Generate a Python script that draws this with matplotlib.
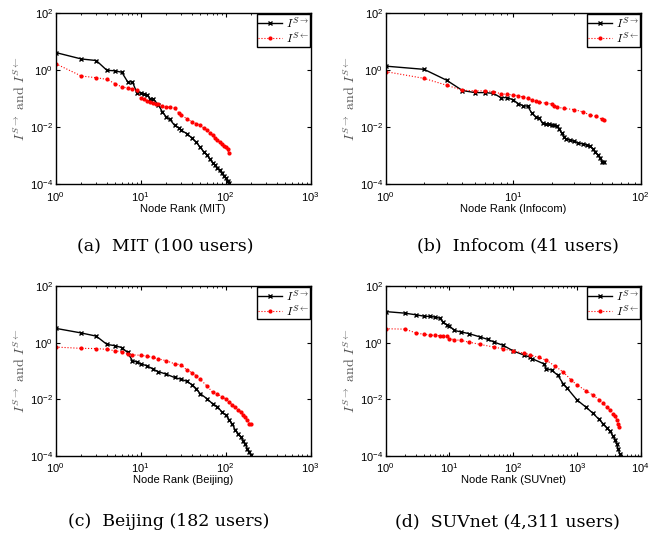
import matplotlib
matplotlib.use("Agg")
import matplotlib.pyplot as plt
import numpy as np

plt.rcParams["mathtext.fontset"] = "cm"
plt.rcParams["font.family"] = ["Liberation Sans", "DejaVu Sans"]

# ---- values (rank, influence) ----
mit_rank_out = [1, 2, 3, 4, 5, 6, 7, 8, 9, 10, 11, 12, 13, 14, 16, 18, 20, 22, 25,
                28, 30, 35, 40, 45, 50, 55, 60, 65, 70, 75, 80, 85, 90, 95, 100, 105, 110]
mit_out = [4.2, 2.5, 2.2, 1.0, 0.96, 0.85, 0.4, 0.39, 0.165, 0.16, 0.15, 0.135, 0.1,
           0.1, 0.063, 0.035, 0.023, 0.019, 0.0118, 0.0095, 0.0078, 0.006, 0.0042,
           0.003, 0.002, 0.0014, 0.0011, 0.00076, 0.00058, 0.00047, 0.00037, 0.00031,
           0.00024, 0.0002, 0.00016, 0.00013, 0.000114]
mit_rank_in = [1, 2, 3, 4, 5, 6, 7, 8, 9, 10, 11, 12, 13, 14, 15, 16, 18, 20, 22, 25,
               28, 30, 35, 40, 45, 50, 55, 60, 65, 70, 75, 80, 85, 90, 95, 100, 105, 108]
mit_in = [1.7, 0.63, 0.55, 0.48, 0.34, 0.26, 0.24, 0.22, 0.2, 0.107, 0.096, 0.084,
          0.078, 0.072, 0.068, 0.064, 0.058, 0.052, 0.05, 0.048, 0.032, 0.027, 0.02,
          0.0155, 0.0135, 0.012, 0.0095, 0.0078, 0.0063, 0.0052, 0.0043, 0.0036,
          0.003, 0.0025, 0.0022, 0.002, 0.0017, 0.0013]

info_rank_out = [1, 2, 3, 4, 5, 6, 7, 8, 9, 10, 11, 12, 13, 14, 15, 16, 17, 18, 19, 20,
                 21, 22, 23, 24, 25, 26, 28, 30, 32, 35, 38, 40, 42, 44, 46, 48, 50, 52]
info_out = [1.4, 1.08, 0.45, 0.195, 0.165, 0.165, 0.155, 0.11, 0.11, 0.091, 0.067,
            0.057, 0.055, 0.031, 0.023, 0.021, 0.0137, 0.0126, 0.0126, 0.0119, 0.0116,
            0.011, 0.0087, 0.0061, 0.0047, 0.0039, 0.0036, 0.0032, 0.0029, 0.0026,
            0.0024, 0.0022, 0.0018, 0.0014, 0.0011, 0.00084, 0.00063, 0.00063]
info_rank_in = [1, 2, 3, 4, 5, 6, 7, 8, 9, 10, 11, 12, 13, 14, 15, 16, 18, 20, 21, 22,
                25, 30, 35, 40, 45, 50, 52]
info_in = [0.9, 0.52, 0.3, 0.2, 0.19, 0.19, 0.18, 0.15, 0.143, 0.135, 0.128, 0.115,
           0.104, 0.091, 0.081, 0.075, 0.071, 0.066, 0.057, 0.051, 0.046, 0.042,
           0.035, 0.027, 0.024, 0.019, 0.018]

bj_rank_out = [1, 2, 3, 4, 5, 6, 7, 8, 9, 10, 12, 14, 16, 20, 25, 30, 35, 40, 45, 50,
               60, 70, 80, 90, 100, 110, 120, 130, 140, 150, 160, 170, 180, 190, 200]
bj_out = [3.2, 2.2, 1.7, 0.87, 0.78, 0.67, 0.45, 0.23, 0.21, 0.18, 0.15, 0.116, 0.096,
          0.077, 0.059, 0.051, 0.043, 0.033, 0.024, 0.016, 0.0106, 0.007, 0.0055,
          0.0036, 0.0028, 0.0019, 0.0013, 0.00081, 0.00062, 0.00048, 0.00035,
          0.00026, 0.00018, 0.00014, 0.000108]
bj_rank_in = [1, 2, 3, 4, 5, 6, 7, 8, 10, 12, 14, 16, 20, 25, 30, 35, 40, 45, 50, 60,
              70, 80, 90, 100, 110, 120, 130, 140, 150, 160, 170, 180, 190, 200]
bj_in = [0.7, 0.63, 0.62, 0.58, 0.52, 0.47, 0.41, 0.37, 0.36, 0.33, 0.3, 0.27, 0.23,
         0.18, 0.165, 0.107, 0.088, 0.068, 0.051, 0.03, 0.018, 0.016, 0.012, 0.0106,
         0.0081, 0.0062, 0.0055, 0.0042, 0.0037, 0.0028, 0.0024, 0.0019, 0.0014,
         0.0013]

suv_rank_out = [1, 2, 3, 4, 5, 6, 7, 8, 9, 10, 12, 15, 20, 30, 40, 50, 70, 100, 150,
                181, 200, 300, 331, 400, 500, 606, 700, 1000, 1400, 1787, 2200, 2560,
                3000, 3300, 3700, 3970, 4200, 4450, 4690]
suv_out = [12.5, 11, 9.6, 8.6, 8.4, 8.0, 7.3, 5.3, 4.3, 3.9, 2.7, 2.4, 2.1, 1.6, 1.3,
           1.05, 0.8, 0.51, 0.36, 0.31, 0.27, 0.18, 0.122, 0.107, 0.071, 0.036, 0.025,
           0.0095, 0.0052, 0.0032, 0.002, 0.0014, 0.00095, 0.00074, 0.0005, 0.00037,
           0.00026, 0.00017, 0.00012]
suv_rank_in = [1, 2, 3, 4, 5, 6, 7, 8, 9, 10, 12, 15, 20, 30, 50, 70, 100, 150, 181,
               250, 331, 450, 606, 800, 1000, 1400, 1787, 2200, 2560, 3000, 3300, 3700,
               3970, 4200, 4450, 4600]
suv_in = [3.1, 3.0, 2.2, 1.96, 1.86, 1.8, 1.75, 1.72, 1.7, 1.38, 1.27, 1.2, 1.05,
          0.87, 0.7, 0.6, 0.51, 0.42, 0.38, 0.3, 0.24, 0.15, 0.093, 0.05, 0.032, 0.02,
          0.014, 0.0098, 0.0072, 0.0052, 0.0042, 0.0031, 0.0025, 0.0019, 0.0014,
          0.00109]

panels = [
    ("MIT", "(a)  MIT (100 users)", 1e3, mit_rank_out, mit_out, mit_rank_in, mit_in),
    ("Infocom", "(b)  Infocom (41 users)", 1e2, info_rank_out, info_out, info_rank_in, info_in),
    ("Beijing", "(c)  Beijing (182 users)", 1e3, bj_rank_out, bj_out, bj_rank_in, bj_in),
    ("SUVnet", "(d)  SUVnet (4,311 users)", 1e4, suv_rank_out, suv_out, suv_rank_in, suv_in),
]

W, H = 662, 535
boxes = [(55.7, 13.3, 255, 171), (385.7, 13.3, 255, 171),
         (55.7, 286, 255, 170), (385.7, 286, 255, 170)]
caption_xy = [(165, 246), (518, 246), (169, 522), (507, 522)]

fig = plt.figure(figsize=(W / 100, H / 100), dpi=100)


def log_fmt(v, pos):
    return r"$\mathregular{10^{%d}}$" % int(round(np.log10(v)))


for (name, caption, xmax, r_out, v_out, r_in, v_in), (x0, y0, bw, bh), (cx, cy) in zip(
        panels, boxes, caption_xy):
    ax = fig.add_axes([x0 / W, 1 - (y0 + bh) / H, bw / W, bh / H])
    ax.plot(r_out, v_out, "-", color="black", lw=1, marker="x", ms=3.5, mew=1,
            label=r"$I^{S\rightarrow}$")
    ax.plot(r_in, v_in, ":", color="red", lw=0.8, marker=".", ms=4,
            label=r"$I^{S\leftarrow}$")
    ax.set_xscale("log")
    ax.set_yscale("log")
    ax.set_xlim(1, xmax)
    ax.set_ylim(1e-4, 1e2)
    ax.set_yticks([1e-4, 1e-2, 1e0, 1e2])
    ax.xaxis.set_major_formatter(plt.FuncFormatter(log_fmt))
    ax.yaxis.set_major_formatter(plt.FuncFormatter(log_fmt))
    ax.yaxis.set_minor_locator(matplotlib.ticker.NullLocator())
    ax.tick_params(which="both", direction="in", top=True, right=True, labelsize=8)
    ax.tick_params(which="major", length=3)
    ax.tick_params(which="minor", length=1.5)
    ax.tick_params(axis="x", which="major", pad=4)
    ax.tick_params(axis="y", which="major", pad=2)
    for sp in ax.spines.values():
        sp.set_linewidth(1)
    ax.set_xlabel("Node Rank (%s)" % name, fontsize=8, labelpad=0)
    ax.set_ylabel(r"$I^{S\rightarrow}\ \mathrm{and}\ I^{S\leftarrow}$", fontsize=10,
                  color="#555555", labelpad=1)
    leg = ax.legend(loc="upper right", fontsize=8.5, fancybox=False, framealpha=1,
                    edgecolor="black", borderpad=0.1, labelspacing=0.0,
                    handlelength=2.0, handletextpad=0.3, borderaxespad=0.1,
                    numpoints=1)
    leg.get_frame().set_linewidth(1)
    fig.text(cx / W, 1 - cy / H, caption, ha="center", va="center",
             fontsize=12.5, family="DejaVu Serif")

fig.savefig("out.png", dpi=100)
